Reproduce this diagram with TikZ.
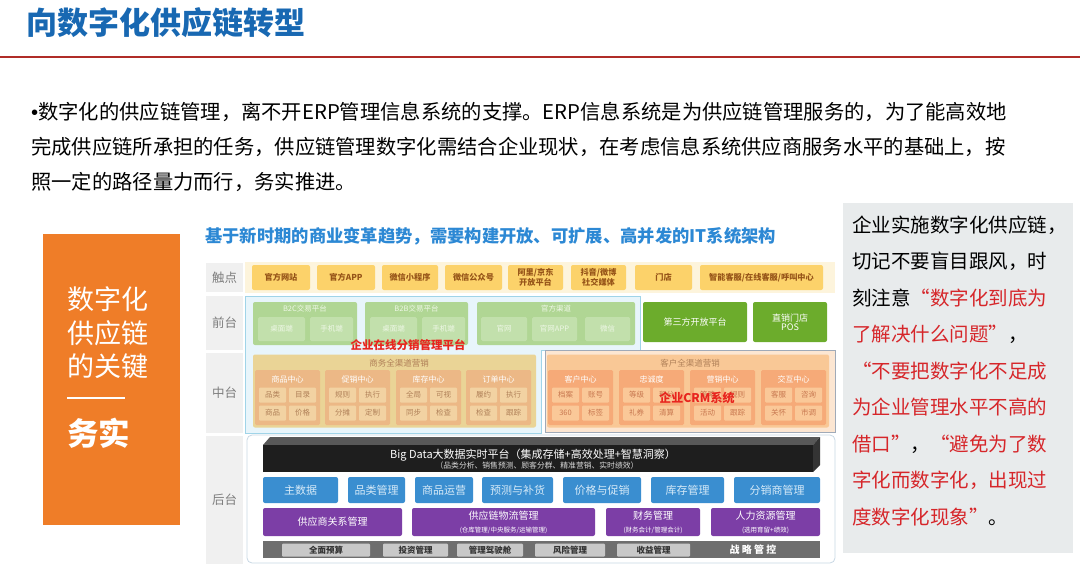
\documentclass[tikz,border=0pt]{standalone}
\usepackage{fontspec}
\setmainfont{Noto Sans CJK SC}
\newfontfamily\latinfont{Liberation Sans}
\usetikzlibrary{positioning}

\definecolor{titleblue}{RGB}{24,104,178}
\definecolor{rulered}{RGB}{176,44,40}
\definecolor{keyorange}{RGB}{239,125,40}
\definecolor{archblue}{RGB}{44,136,212}
\definecolor{lblgray}{RGB}{240,240,240}
\definecolor{lbltext}{RGB}{125,125,125}
\definecolor{touchband}{RGB}{253,244,220}
\definecolor{touchfill}{RGB}{252,210,106}
\definecolor{touchtext}{RGB}{150,84,24}
\definecolor{frontbg}{RGB}{232,245,251}
\definecolor{frontline}{RGB}{160,212,232}
\definecolor{grnbox}{RGB}{176,214,148}
\definecolor{grnsub}{RGB}{194,224,172}
\definecolor{grntext}{RGB}{238,247,230}
\definecolor{grnsolid}{RGB}{108,172,44}
\definecolor{midbox}{RGB}{234,212,150}
\definecolor{midctr}{RGB}{236,184,134}
\definecolor{miditem}{RGB}{242,210,162}
\definecolor{midtext}{RGB}{176,128,88}
\definecolor{crmbg}{RGB}{252,230,210}
\definecolor{crmline}{RGB}{160,170,184}
\definecolor{crmbox}{RGB}{249,200,150}
\definecolor{crmctr}{RGB}{246,170,120}
\definecolor{crmitem}{RGB}{250,200,152}
\definecolor{crmtext}{RGB}{200,120,80}
\definecolor{hotred}{RGB}{232,36,30}
\definecolor{backline}{RGB}{200,216,228}
\definecolor{bdfront}{RGB}{30,30,30}
\definecolor{bdtop}{RGB}{88,88,88}
\definecolor{bdside}{RGB}{52,52,52}
\definecolor{svcblue}{RGB}{58,142,208}
\definecolor{svctext}{RGB}{214,234,248}
\definecolor{erppurple}{RGB}{124,62,166}
\definecolor{ctrlbar}{RGB}{110,110,110}
\definecolor{ctrlbox}{RGB}{200,200,200}
\definecolor{notebg}{RGB}{232,235,236}
\definecolor{notered}{RGB}{214,38,42}

\newcommand{\fsz}[1]{\fontsize{#1}{#1}\selectfont}

\begin{document}
\begin{tikzpicture}[x=1pt, y=-1pt,
  box/.style={inner sep=0pt, outer sep=0pt, align=center},
  lbl/.style={box, fill=lblgray, text=lbltext, font=\fsz{12.5}, minimum width=37},
  touch/.style={box, fill=touchfill, rounded corners=2pt, text=touchtext, font=\fsz{8.2}\bfseries, minimum height=25},
  grn/.style={box, fill=grnbox, rounded corners=2pt, minimum height=43},
  grnsub/.style={box, fill=grnsub, rounded corners=1.5pt, text=grntext, font=\fsz{7.5}, minimum height=24},
  grnbig/.style={box, fill=grnsolid, rounded corners=2pt, text=white, font=\fsz{9}, minimum height=40},
  ctr/.style={box, rounded corners=1.5pt, minimum width=65, minimum height=55},
  item/.style={box, rounded corners=1pt, minimum width=27, minimum height=15, font=\fsz{7.5}},
  hot/.style={inner sep=0pt, text=hotred, font=\fsz{11.5}\bfseries},
  svc/.style={box, fill=svcblue, rounded corners=2pt, text=svctext, font=\fsz{11}, minimum height=26},
  erp/.style={box, fill=erppurple, rounded corners=2pt, text=white, minimum height=28},
  ctl/.style={box, fill=ctrlbox, rounded corners=1pt, text=black!80, font=\fsz{8.5}\bfseries, minimum height=13},
  para/.style={anchor=west, inner sep=0pt, font=\fsz{20.3}},
  note/.style={anchor=west, inner sep=0pt, font=\fsz{19.5}}
]
\useasboundingbox (0,0) rectangle (1080,581);

% title
\node[anchor=west, inner sep=0pt, text=titleblue, font=\fsz{31}\bfseries] (title) at (26,23) {向数字化供应链转型};
\coordinate (ruleL) at (0,57);
\coordinate (ruleR) at (1080,57);
\draw[rulered, line width=1.6pt] (ruleL) -- (ruleR);

% intro text
\node[para] (p1) at (31,112) {{\latinfont •}数字化的供应链管理，离不开ERP管理信息系统的支撑。ERP信息系统是为供应链管理服务的，为了能高效地};
\node[para] (p2) at (31,147) {完成供应链所承担的任务，供应链管理数字化需结合企业现状，在考虑信息系统供应商服务水平的基础上，按};
\node[para] (p3) at (31,182) {照一定的路径量力而行，务实推进。};

% key box
\node[box, fill=keyorange, minimum width=137, minimum height=291] (key) at (111.5,379.5) {};
\node[anchor=north west, inner sep=0pt, text=white, align=left, font=\fontsize{27}{33.5}\selectfont] (keytxt) at (67,286.5) {数字化\\供应链\\的关键};
\coordinate (barL) at (67,398);
\coordinate (barR) at (125,398);
\draw[white, line width=2pt] (barL) -- (barR);
\node[anchor=west, inner sep=0pt, text=white, font=\fsz{31.5}\bfseries] (wushi) at (67,433) {务实};

% architecture
\node[anchor=west, inner sep=0pt, text=archblue, font=\fsz{17.3}\bfseries] (arch) at (205,236) {基于新时期的商业变革趋势，需要构建开放、可扩展、高并发的IT系统架构};

\node[lbl, minimum height=29] (touchlbl) at (224.5,277.5) {触点};
\node[lbl, minimum height=54] (frontlbl) at (224.5,323) {前台};
\node[lbl, minimum height=80] (midlbl) at (224.5,392.5) {中台};
\node[lbl, minimum height=128] (backlbl) at (224.5,499.5) {后台};

% touch points
\node[box, fill=touchband, minimum width=590, minimum height=31] (band) at (540,277.5) {};
\foreach \a/\b/\t [count=\i] in {252/310/官方网站, 317/375/官方APP, 382/438/微信小程序, 445/502/微信公众号,
    508/563/{阿里/京东\\开放平台}, 571/626/{抖音/微博\\社交媒体}, 635/692/门店, 700/823/{智能客服/在线客服/呼叫中心}}
  \node[touch, minimum width={\b-\a}] (t\i) at ({(\a+\b)/2},277.5) {\t};

% front end
\draw[fill=frontbg, draw=frontline, line width=0.8pt] (245,296) -- (640,296) -- (640,350) -- (541,350) -- (541,433) -- (245,433) -- cycle;
\foreach \a/\b/\t [count=\i] in {253/357/B2C交易平台, 365/468/B2B交易平台, 477/635/官方渠道} {
  \node[grn, minimum width={\b-\a}] (g\i) at ({(\a+\b)/2},323.5) {};
  \node[inner sep=0pt, text=grntext, font=\fsz{7.5}] (gt\i) at ({(\a+\b)/2},309) {\t};
}
\foreach \a/\b/\t [count=\i] in {258/305/桌面端, 310/353/手机端, 370/417/桌面端, 422/465/手机端, 481/527/官网, 532/577/官网APP, 585/630/微信}
  \node[grnsub, minimum width={\b-\a}] (gs\i) at ({(\a+\b)/2},329) {\t};
\node[grnbig, minimum width=104] (open) at (695,322) {第三方开放平台};
\node[grnbig, minimum width=74] (pos) at (790,322) {直销门店\\POS};

% middle platform
\node[box, fill=midbox, rounded corners=2pt, minimum width=283, minimum height=73] (mid) at (394.5,391) {};
\node[inner sep=0pt, text=midtext, font=\fsz{8.5}] (midt) at (399,363) {商务全渠道营销};
\foreach \x/\t/\p/\q/\r/\s [count=\i] in {255/商品中心/品类/目录/商品/价格, 325/促销中心/规则/执行/分摊/定制,
    396/库存中心/全局/可视/同步/检查, 466/订单中心/履约/执行/检查/跟踪} {
  \node[ctr, fill=midctr] (m\i) at (\x+32.5,397.5) {};
  \node[inner sep=0pt, text=white, font=\fsz{8}] (mt\i) at (\x+32.5,379) {\t};
  \node[item, fill=miditem, text=midtext] (m\i a) at (\x+17.5,395) {\p};
  \node[item, fill=miditem, text=midtext] (m\i b) at (\x+47.5,395) {\q};
  \node[item, fill=miditem, text=midtext] (m\i c) at (\x+17.5,413) {\r};
  \node[item, fill=miditem, text=midtext] (m\i d) at (\x+47.5,413) {\s};
}

% crm
\draw[fill=crmbg, draw=crmline, line width=0.8pt] (545,350) rectangle (835,432);
\node[box, fill=crmbox, rounded corners=2pt, minimum width=282, minimum height=73] (crm) at (688,391) {};
\node[inner sep=0pt, text=midtext, font=\fsz{8.5}] (crmt) at (690,363) {客户全渠道营销};
\foreach \x/\t/\p/\q/\r/\s [count=\i] in {548/客户中心/档案/账号/360/标签, 619/忠诚度/等级/积分/礼券/清算,
    690/营销中心/策略/规则/活动/跟踪, 761/交互中心/客服/咨询/关怀/市调} {
  \node[ctr, fill=crmctr] (k\i) at (\x+32.5,397.5) {};
  \node[inner sep=0pt, text=white, font=\fsz{8}] (kt\i) at (\x+32.5,379) {\t};
  \node[item, fill=crmitem, text=crmtext] (k\i a) at (\x+17.5,395) {\p};
  \node[item, fill=crmitem, text=crmtext] (k\i b) at (\x+47.5,395) {\q};
  \node[item, fill=crmitem, text=crmtext] (k\i c) at (\x+17.5,413) {\r};
  \node[item, fill=crmitem, text=crmtext] (k\i d) at (\x+47.5,413) {\s};
}
\node[hot] (dist) at (408,345) {企业在线分销管理平台};
\node[hot, font=\fsz{12}\bfseries] (crmred) at (697,398) {企业CRM系统};

% back end
\draw[fill=white, draw=backline, line width=0.8pt, rounded corners=5pt] (247,435) rectangle (835,563);
\fill[bdtop] (263,445) -- (270,437) -- (820,437) -- (813,445) -- cycle;
\fill[bdside] (813,445) -- (820,437) -- (820,465) -- (813,472) -- cycle;
\node[box, fill=bdfront, minimum width=550, minimum height=27] (bigdata) at (538,458.5) {};
\node[inner sep=0pt, text=white, font=\fsz{11}] (bdt) at (533,455) {Big Data大数据实时平台（集成存储+高效处理+智慧洞察）};
\node[inner sep=0pt, text=white!85!black, font=\fsz{7.8}] (bds) at (537,466) {（品类分析、销售预测、顾客分群、精准营销、实时绩效）};

\foreach \a/\b/\t [count=\i] in {263/338/主数据, 348/405/品类管理, 415/473/商品运营, 482/553/预测与补货,
    563/641/价格与促销, 651/724/库存管理, 734/820/分销商管理}
  \node[svc, minimum width={\b-\a}] (s\i) at ({(\a+\b)/2},490) {\t};

\node[erp, minimum width=139, font=\fsz{10}] (srm) at (332.5,522) {供应商关系管理};
\foreach \a/\b/\t/\s [count=\i] in {412/595/供应链物流管理/{(仓库管理/中央服务/运输管理)},
    606/700/财务管理/{(财务会计/管理会计)}, 711/820/人力资源管理/{(选用育留+绩效)}}
  \node[erp, minimum width={\b-\a}] (e\i) at ({(\a+\b)/2},522) {{\fsz{10}\t}\\[1pt]{\fsz{6.5}\s}};

\node[box, fill=ctrlbar, minimum width=557, minimum height=17] (ctrl) at (541.5,549.5) {};
\foreach \a/\b/\t [count=\i] in {282/370/全面预算, 383/448/投资管理, 457/523/管理驾驶舱, 535/605/风险管理, 617/690/收益管理}
  \node[ctl, minimum width={\b-\a}] (c\i) at ({(\a+\b)/2},550) {\t};
\node[inner sep=0pt, text=white, font=\fsz{10}\bfseries] (strat) at (753,550) {战\ 略\ 管\ 控};

% note
\node[box, fill=notebg, minimum width=230, minimum height=350] (notebox) at (958,378) {};
\node[note] (n1) at (852,225) {企业实施数字化供应链，};
\node[note] (n2) at (852,261.5) {切记不要盲目跟风，时};
\node[note] (n3) at (852,298) {刻注意\textcolor{notered}{“数字化到底为}};
\node[note] (n4) at (852,334.5) {\textcolor{notered}{了解决什么问题”}，};
\node[note] (n5) at (852,371) {\textcolor{notered}{“不要把数字化不足成}};
\node[note] (n6) at (852,407.5) {\textcolor{notered}{为企业管理水平不高的}};
\node[note] (n7) at (852,444) {\textcolor{notered}{借口”}，\textcolor{notered}{“避免为了数}};
\node[note] (n8) at (852,480.5) {\textcolor{notered}{字化而数字化，出现过}};
\node[note] (n9) at (852,517) {\textcolor{notered}{度数字化现象”}。};
\end{tikzpicture}
\end{document}
